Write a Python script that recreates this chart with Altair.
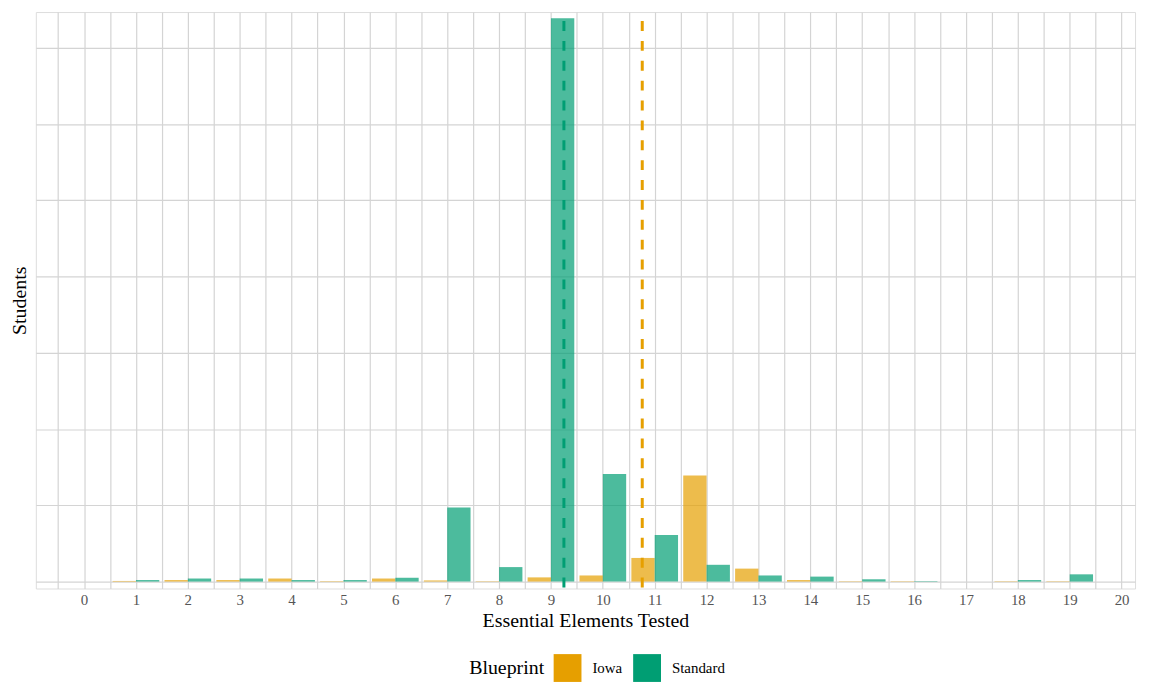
import altair as alt
import pandas as pd

elements = list(range(21))
iowa = [0, 8, 20, 20, 40, 6, 40, 15, 5, 55, 80, 310, 1390, 170, 20, 5, 5, 0, 5, 5, 0]
standard = [0, 20, 40, 40, 20, 20, 50, 970, 190, 7390, 1410, 610, 220, 80, 65, 30, 6, 0, 20, 95, 0]

blueprints = ["Iowa", "Standard"]
means = [10.76, 9.25]
colors = ["#E69F00", "#009E73"]

x_ticks = list(range(0, 21))
x_minor = [v + 0.5 for v in range(-1, 20)]
y_grid = [0, 1000, 2000, 3000, 4000, 5000, 6000, 7000]

rows = []
for e, v in zip(elements, iowa):
    rows.append({"Elements": e, "Blueprint": "Iowa", "Students": v})
for e, v in zip(elements, standard):
    rows.append({"Elements": e, "Blueprint": "Standard", "Students": v})
df = pd.DataFrame(rows)
mean_df = pd.DataFrame({"Blueprint": blueprints, "Mean": means})

FONT = "Liberation Serif"
GRID = "#d4d4d4"

xscale = alt.Scale(domain=[-0.93, 20.26], nice=False, zero=False)
yscale = alt.Scale(domain=[-91, 7470], nice=False, zero=False)
color = alt.Color(
    "Blueprint:N",
    scale=alt.Scale(domain=blueprints, range=colors),
    legend=alt.Legend(
        title="Blueprint",
        orient="none",
        legendX=436,
        legendY=646,
        direction="horizontal",
        titleOrient="left",
        titleFontSize=20,
        titleFont=FONT,
        titleFontWeight="normal",
        titleColor="#000000",
        labelFont=FONT,
        labelFontSize=15,
        labelColor="#000000",
        symbolType="square",
        symbolSize=784,
        symbolOpacity=1,
        symbolStrokeWidth=0,
        columnPadding=11,
        labelOffset=11,
        titlePadding=9,
    ),
)

bars = alt.Chart(df).mark_bar(opacity=0.7).transform_calculate(
    x0="datum.Blueprint == 'Iowa' ? datum.Elements - 0.45 : datum.Elements",
    x1="datum.Blueprint == 'Iowa' ? datum.Elements : datum.Elements + 0.45",
).encode(
    x=alt.X(
        "x0:Q",
        scale=xscale,
        axis=alt.Axis(
            orient="bottom",
            title=None,
            values=x_minor,
            labels=False,
            ticks=False,
            domain=False,
            grid=True,
            gridColor=GRID,
            gridWidth=1.2,
        ),
    ),
    x2="x1:Q",
    y=alt.Y(
        "Students:Q",
        scale=yscale,
        axis=alt.Axis(
            title="Students",
            values=y_grid,
            labels=False,
            ticks=False,
            domain=False,
            grid=True,
            gridColor=GRID,
            gridWidth=1.2,
            titleFont=FONT,
            titleFontSize=20,
            titleFontWeight="normal",
            titleColor="#000000",
            titlePadding=6,
        ),
    ),
    y2=alt.datum(0),
    color=color,
)

rules = alt.Chart(mean_df).mark_rule(strokeWidth=3, strokeDash=[10, 10], strokeDashOffset=11).encode(
    x=alt.X(
        "Mean:Q",
        scale=xscale,
        axis=alt.Axis(
            orient="bottom",
            title="Essential Elements Tested",
            values=x_ticks,
            format="d",
            labelOverlap=False,
            labelFlush=False,
            ticks=False,
            domain=False,
            grid=True,
            gridColor=GRID,
            gridWidth=1.2,
            labelFont=FONT,
            labelFontSize=15,
            labelColor="#555555",
            labelPadding=4,
            titleFont=FONT,
            titleFontSize=20,
            titleFontWeight="normal",
            titleColor="#000000",
            titlePadding=3,
        ),
    ),
    color=alt.Color("Blueprint:N", scale=alt.Scale(domain=blueprints, range=colors), legend=None),
)

chart = alt.layer(bars, rules).resolve_axis(x="independent").properties(
    width=1106,
    height=580,
    padding={"left": 2, "top": 0, "right": 0, "bottom": 0},
).configure_view(stroke=None).configure(background="white")

chart.save("out.html", embed_options={"renderer": "svg", "actions": False})
